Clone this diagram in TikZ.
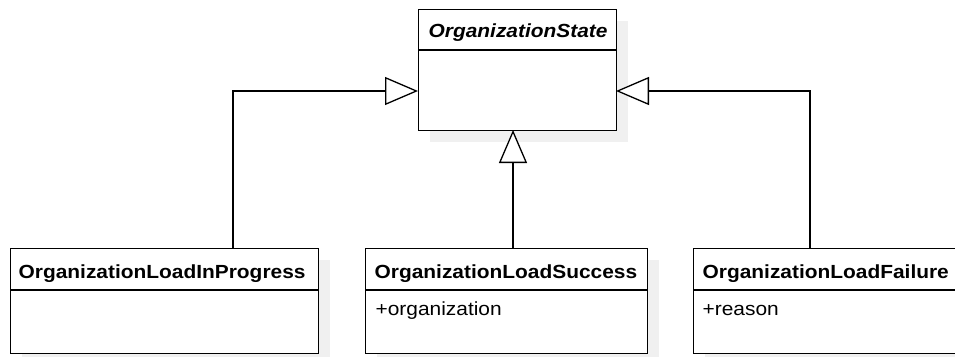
\documentclass[tikz,border=0pt]{standalone}
\usepackage{fontspec}
\setmainfont{Liberation Sans}
\newfontfamily\umlfont[FakeStretch=1.1]{Liberation Sans}
\usetikzlibrary{arrows.meta}
\begin{document}
\begin{tikzpicture}[x=1pt,y=-1pt,
  line width=1.3pt,
  umlbox/.style={draw=black, fill=white, rectangle, anchor=north west, inner sep=0pt},
  shade/.style={fill=black!6, draw=none},
  title/.style={anchor=base west, inner sep=0pt, font=\umlfont\fontsize{19}{22}\selectfont\bfseries},
  attr/.style={anchor=base west, inner sep=0pt, font=\umlfont\fontsize{19}{22}\selectfont},
  gen/.style={-{Triangle[open, length=33pt, width=28pt, fill=white]}}]
\useasboundingbox (0,0) rectangle (955,356);
\clip (0,0) rectangle (955,356);

% drop shadows
\fill[shade] (430,21) rectangle (628,142);
\fill[shade] (22,260) rectangle (330,365);
\fill[shade] (377,260) rectangle (659,365);
\fill[shade] (705,260) rectangle (982,365);

% abstract parent class
\node[umlbox, minimum width=198pt, minimum height=121pt] (state) at (418,9) {};
\draw (418,50) -- (616,50);
\node[title, font=\umlfont\fontsize{19}{22}\selectfont\bfseries\itshape] (stateT) at (428,37) {OrganizationState};

% subclasses
\node[umlbox, minimum width=308pt, minimum height=105pt] (ip) at (10,248) {};
\draw (10,290) -- (318,290);
\node[title] (ipT) at (18,278) {OrganizationLoadInProgress};

\node[umlbox, minimum width=282pt, minimum height=105pt] (ok) at (365,248) {};
\draw (365,290) -- (647,290);
\node[title] (okT) at (374,278) {OrganizationLoadSuccess};
\node[attr] (okA) at (375,315) {+organization};

\node[umlbox, minimum width=277pt, minimum height=105pt] (fail) at (693,248) {};
\draw (693,290) -- (970,290);
\node[title] (failT) at (702,278) {OrganizationLoadFailure};
\node[attr] (failA) at (702,315) {+reason};

% connector end points
\coordinate (ipTop) at (233,248);
\coordinate (okTop) at (513,248);
\coordinate (failTop) at (810,248);
\coordinate (stL) at (418,91);
\coordinate (stR) at (616,91);
\coordinate (stB) at (513,130);

% generalisations
\draw[gen] (ipTop) |- (stL);
\draw[gen] (okTop) -- (stB);
\draw[gen] (failTop) |- (stR);
\end{tikzpicture}
\end{document}
